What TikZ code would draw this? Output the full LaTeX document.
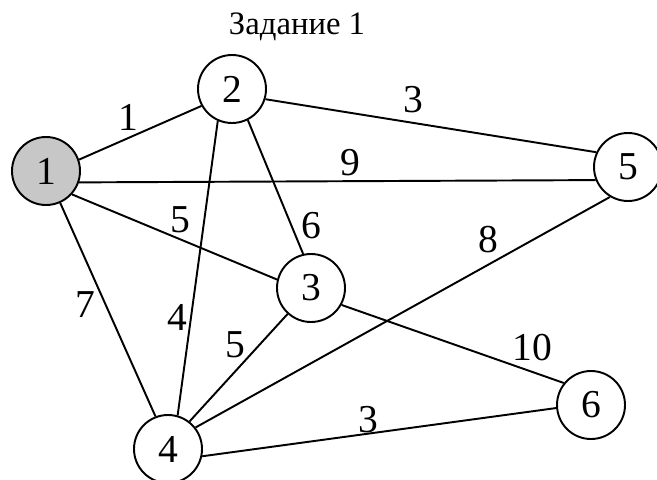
\documentclass[tikz,border=0pt]{standalone}
\usepackage{fontspec}
\setmainfont{Liberation Serif}
\usepackage{tikz}
\usetikzlibrary{calc}

\begin{document}
\begin{tikzpicture}[vertex/.style={draw,circle,line width=1.1pt,minimum size=1.36cm,inner sep=0pt,font=\fontsize{22.5}{23}\selectfont},
  weight/.style={inner sep=0pt,font=\fontsize{22.5}{23}\selectfont},
  edge/.style={line width=1.1pt}]
\useasboundingbox (0,0) rectangle (13.14,9.58);
\node[anchor=base,font=\fontsize{18.6}{20}\selectfont] (title) at (5.94,8.88) {Задание 1};
% vertices
\node[vertex,fill=black!22] (v1) at (0.92,6.16) {1};
\node[vertex] (v2) at (4.64,7.80) {2};
\node[vertex] (v3) at (6.22,3.82) {3};
\node[vertex] (v4) at (3.36,0.60) {4};
\node[vertex] (v5) at (12.56,6.24) {5};
\node[vertex] (v6) at (11.82,1.48) {6};
% edges
\draw[edge] (v1.19) -- (v2.209);
\draw[edge] (v2.-17) -- (v5.155);
\draw[edge] (v1.-19) -- (v5.202);
\draw[edge] (v1.-42) -- (v3.166);
\draw[edge] (v2.297) -- (v3.103);
\draw[edge] (v2.246) -- (v4.74);
\draw[edge] (v1.-66) -- (v4.111);
\draw[edge] (v3.228) -- (v4.52);
\draw[edge] (v4.38) -- (v5.239);
\draw[edge] (v3.-29) -- (v6.141);
\draw[edge] (v4.-12) -- (v6.185);
% weights
\node[weight] (w12) at (2.56,7.24) {1};
\node[weight] (w25) at (8.26,7.58) {3};
\node[weight] (w15) at (7.00,6.32) {9};
\node[weight] (w13) at (3.60,5.18) {5};
\node[weight] (w23) at (6.22,5.06) {6};
\node[weight] (w45) at (9.76,4.78) {8};
\node[weight] (w36) at (10.64,2.62) {10};
\node[weight] (w14) at (1.70,3.48) {7};
\node[weight] (w24) at (3.54,3.24) {4};
\node[weight] (w34) at (4.70,2.68) {5};
\node[weight] (w46) at (7.36,1.18) {3};
\end{tikzpicture}
\end{document}
